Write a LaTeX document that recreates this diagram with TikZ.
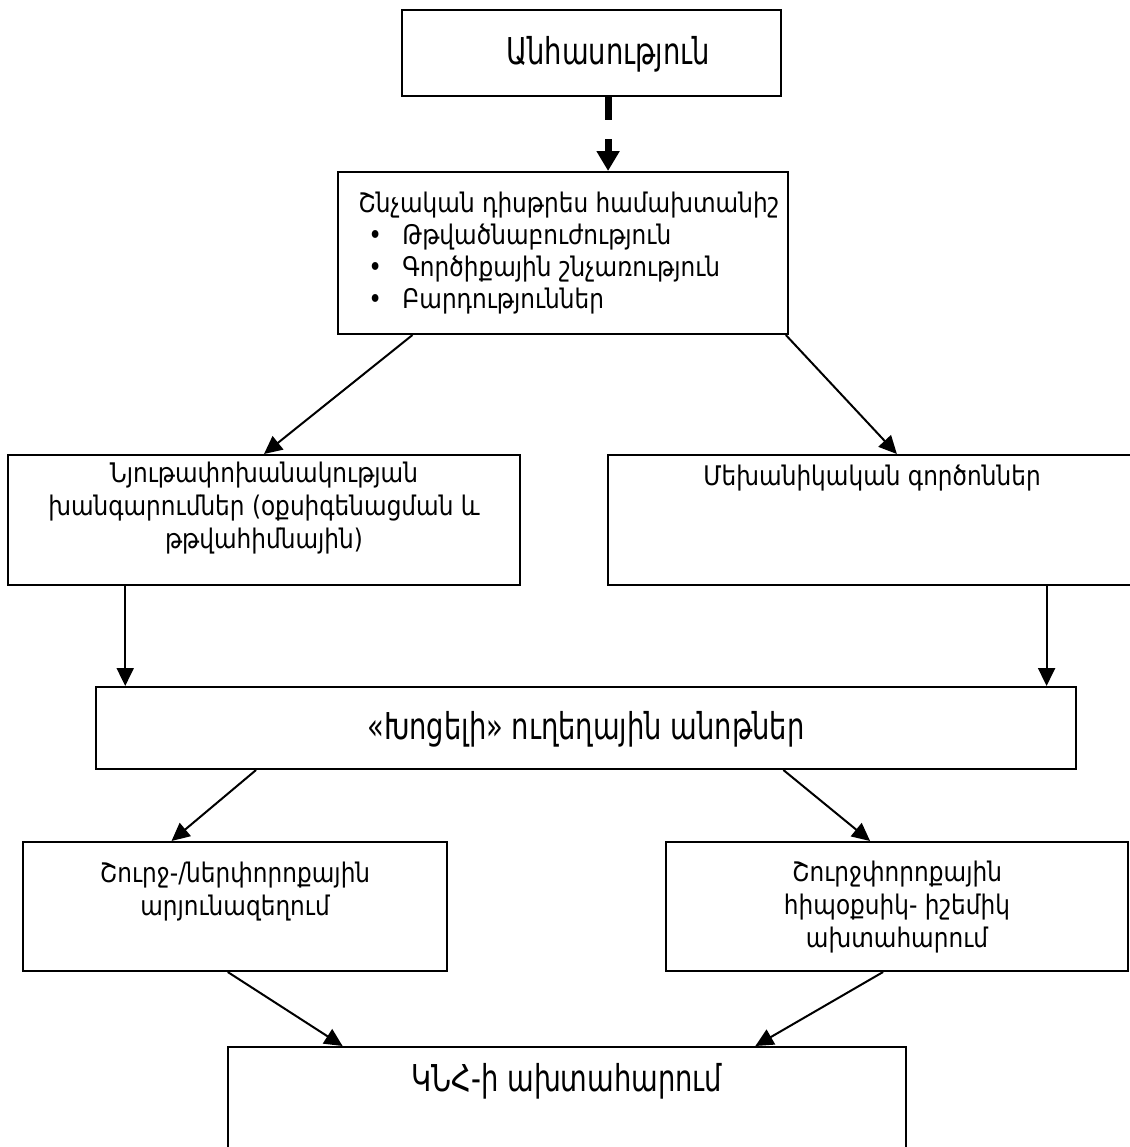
\documentclass[tikz,border=0pt]{standalone}
\usepackage{fontspec}
\setmainfont[FakeStretch=0.86]{DejaVu Sans}
\newfontfamily\condfont[FakeStretch=0.74]{DejaVu Sans}
\usetikzlibrary{arrows.meta,calc,fit}
\begin{document}
\begin{tikzpicture}[x=0.5pt,y=-0.5pt,
  box/.style={draw, line width=1pt, inner sep=0pt},
  txt/.style={inner sep=0pt, font=\fontsize{13.5}{16.5}\selectfont, align=center},
  big/.style={inner sep=0pt, font=\condfont\fontsize{18.5}{21}\selectfont},
  arr/.style={line width=1pt, -{Triangle[length=9pt,width=8.5pt]}},
  darr/.style={line width=3.5pt, dash pattern=on 11.5pt off 9.5pt, -{Triangle[length=10pt,width=11pt]}}]
\clip (0,0) rectangle (1130,1147);
\fill[white] (0,0) rectangle (1130,1147);
% boxes
\node[box, fit={(402,10)(781,96)}] (b1) {};
\node[box, fit={(338,172)(788,334)}] (b2) {};
\node[box, fit={(8,455)(520,585)}] (b3l) {};
\node[box, fit={(608,455)(1135,585)}] (b3r) {};
\node[box, fit={(96,687)(1076,769)}] (b4) {};
\node[box, fit={(23,842)(447,971)}] (b5l) {};
\node[box, fit={(666,842)(1128,971)}] (b5r) {};
\node[box, fit={(228,1047)(906,1200)}] (b6) {};
% texts
\node[big] (t1) at (608,54) {Անհասություն};
\node[inner sep=0pt, anchor=north west, align=left, font=\fontsize{13.5}{15.9}\selectfont] (t2) at (358,192)
  {Շնչական դիսթրես համախտանիշ\\
   \makebox[22pt][l]{\hspace{5pt}•}Թթվածնաբուժություն\\
   \makebox[22pt][l]{\hspace{5pt}•}Գործիքային շնչառություն\\
   \makebox[22pt][l]{\hspace{5pt}•}Բարդություններ};
\node[txt] (t3l) at (264,508) {Նյութափոխանակության\\խանգարումներ (օքսիգենացման և\\թթվահիմնային)};
\node[txt] (t3r) at (872,478) {Մեխանիկական գործոններ};
\node[big] (t4) at (586,729) {«Խոցելի» ուղեղային անոթներ};
\node[txt] (t5l) at (235,892) {Շուրջ-/ներփորոքային\\արյունազեղում};
\node[txt] (t5r) at (897,907) {Շուրջփորոքային\\հիպօքսիկ- իշեմիկ\\ախտահարում};
\node[big] (t6) at (567,1081) {ԿՆՀ-ի ախտահարում};
% connectors
\coordinate (d1) at ($(b1.south west)!0.5435!(b1.south east)$);
\draw[darr] (d1) -- (d1 |- b2.north);
\draw[arr] ($(b2.south west)!0.167!(b2.south east)$) -- ($(b3l.north west)!0.5!(b3l.north east)$);
\draw[arr] ($(b2.south west)!0.993!(b2.south east)$) -- ($(b3r.north west)!0.548!(b3r.north east)$);
\coordinate (v1) at ($(b3l.south west)!0.23!(b3l.south east)$);
\coordinate (v2) at ($(b3r.south west)!0.831!(b3r.south east)$);
\draw[arr] (v1) -- (v1 |- b4.north);
\draw[arr] (v2) -- (v2 |- b4.north);
\draw[arr] ($(b4.south west)!0.164!(b4.south east)$) -- ($(b5l.north west)!0.351!(b5l.north east)$);
\draw[arr] ($(b4.south west)!0.701!(b4.south east)$) -- ($(b5r.north west)!0.442!(b5r.north east)$);
\draw[arr] ($(b5l.south west)!0.483!(b5l.south east)$) -- ($(b6.north west)!0.170!(b6.north east)$);
\draw[arr] ($(b5r.south west)!0.470!(b5r.south east)$) -- ($(b6.north west)!0.777!(b6.north east)$);
\end{tikzpicture}
\end{document}
